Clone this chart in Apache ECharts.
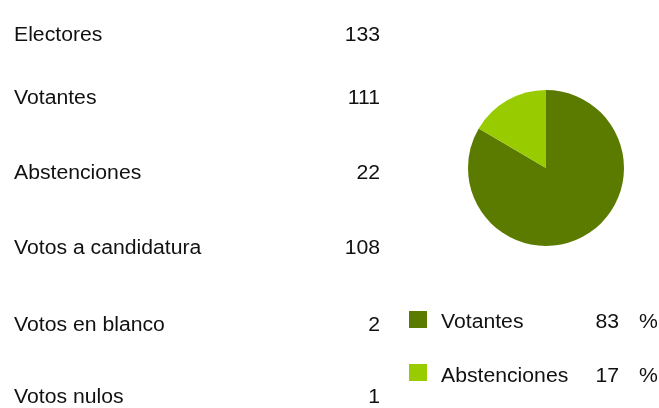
<!DOCTYPE html>
<html><head><meta charset="utf-8">
<script src="https://cdn.jsdelivr.net/npm/echarts@6/dist/echarts.min.js"></script>
<style>html,body{margin:0;padding:0;background:#fff}#c{width:659px;height:408px}</style>
</head><body><div id="c"></div>
<script>
var rowLabels = ['Electores','Votantes','Abstenciones','Votos a candidatura','Votos en blanco','Votos nulos'];
var rowValues = [133,111,22,108,2,1];
var pieNames = ['Votantes','Abstenciones'];
var pieValues = [111,22];
var pieColors = ['#5B7B00','#99CC00'];

var rowY = [35,98,173,248,325,397];
var legendY = [322,376];
var FONT = 'Liberation Sans, Arial, sans-serif';
var FS = 20, SX = 1.06, TXT = '#111';
var total = pieValues.reduce(function(a,b){return a+b;},0);
var pct = pieValues.map(function(v){ return Math.round(v/total*100); });

function txt(s, x, y, align){
  return {type:'text', x:x, y:y, scaleX:SX, silent:true,
    style:{text:s, font:FS+'px '+FONT, fill:TXT, align:align, textAlign:align,
           verticalAlign:'middle', textVerticalAlign:'middle'}};
}
var graphics = [];
rowLabels.forEach(function(l,i){
  graphics.push(txt(l, 14, rowY[i], 'left'));
  graphics.push(txt(String(rowValues[i]), 380, rowY[i], 'right'));
});
pieNames.forEach(function(n,i){
  graphics.push(txt(n, 441, legendY[i], 'left'));
  graphics.push(txt(String(pct[i]), 619, legendY[i], 'right'));
  graphics.push(txt('%', 639, legendY[i], 'left'));
});

var chart = echarts.init(document.getElementById('c'));
chart.setOption({
  animation:false,
  color:pieColors,
  graphic:graphics,
  legend:{
    orient:'vertical',left:409,top:311,padding:0,itemWidth:18,itemHeight:17,itemGap:36,
    icon:'rect',selectedMode:false,
    formatter:function(){return '';},
    textStyle:{fontSize:1}
  },
  series:[{
    type:'pie',center:[546,168],radius:[0,78],startAngle:90,clockwise:true,
    label:{show:false},labelLine:{show:false},
    emphasis:{disabled:true},
    data:pieNames.map(function(n,i){return {name:n,value:pieValues[i]};})
  }]
});
</script></body></html>
